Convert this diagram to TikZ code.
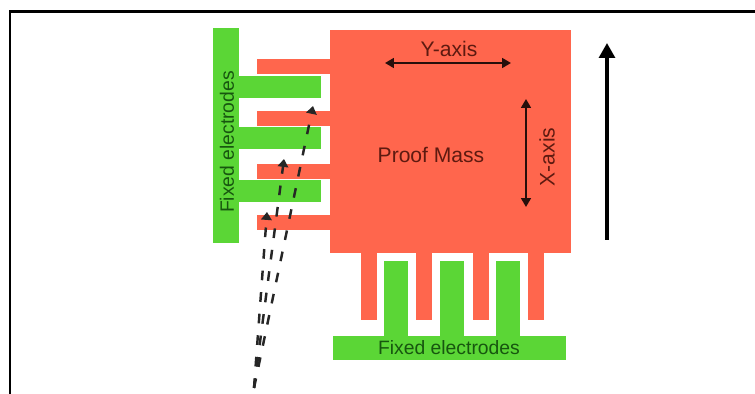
\documentclass[tikz,border=0pt]{standalone}
\usepackage{fontspec}
\setmainfont{Liberation Sans}
\usetikzlibrary{arrows.meta}
\definecolor{massred}{HTML}{FF664D}
\definecolor{fixedgreen}{HTML}{5BD636}
\definecolor{redtext}{HTML}{5E1A10}
\definecolor{greentext}{HTML}{17560F}
\tikzset{
    axisarrow/.style={line width=1.2pt, black!85!massred, {Triangle[width=5.5pt,length=5pt]}-{Triangle[width=5.5pt,length=5pt]}},
    dasharrow/.style={line width=1.4pt, black!85, dash pattern=on 5.5pt off 6.8pt, -{Triangle[width=6pt,length=4.5pt]}},
    masslabel/.style={text=redtext, inner sep=0pt},
    fixedlabel/.style={text=greentext, inner sep=0pt, font=\fontsize{11}{13}\selectfont},
}
\begin{document}
\begin{tikzpicture}[x=0.02cm,y=-0.02cm]
    \useasboundingbox (0,0) rectangle (755,394);

    % Frame, open at the right and at the bottom
    \draw[line width=1.5pt, black] (10,394) -- (10,11.5) -- (755,11.5);

    % Proof mass with its fingers
    \fill[massred] (330,30) rectangle (571,253);
    \foreach \y in {59,111,164,215} {
        \fill[massred] (257,\y) rectangle (331,\y+15);
    }
    \foreach \x in {361,416,473,528} {
        \fill[massred] (\x,252) rectangle (\x+16,320);
    }

    % Fixed electrodes on the left
    \fill[fixedgreen] (213,28) rectangle (239,243);
    \foreach \y in {76,127,180} {
        \fill[fixedgreen] (238,\y) rectangle (321,\y+22);
    }

    % Fixed electrodes at the bottom
    \fill[fixedgreen] (333,336) rectangle (566,360);
    \foreach \x in {384,440,496} {
        \fill[fixedgreen] (\x,261) rectangle (\x+24,337);
    }

    % Labels
    \node[masslabel, font=\fontsize{12}{14}\selectfont] (yaxislabel) at (449,49) {Y-axis};
    \node[masslabel, font=\fontsize{12}{14}\selectfont] (prooflabel) at (431,155) {Proof Mass};
    \node[masslabel, font=\fontsize{12}{14}\selectfont, rotate=90] (xaxislabel) at (547,157) {X-axis};
    \node[fixedlabel, rotate=90] (leftlabel) at (227,142) {Fixed electrodes};
    \node[fixedlabel] (bottomlabel) at (449,348) {Fixed electrodes};

    % Axis arrows
    \coordinate (yleft) at (385,63);
    \coordinate (yright) at (511,63);
    \coordinate (xtop) at (526,99);
    \coordinate (xbottom) at (526,207);
    \draw[axisarrow] (yleft) -- (yright);
    \draw[axisarrow] (xtop) -- (xbottom);

    % Long arrow on the right
    \coordinate (longfoot) at (607,240);
    \coordinate (longhead) at (607,43);
    \draw[line width=1.9pt, black, -{Triangle[width=9pt,length=8.5pt]}] (longfoot) -- (longhead);

    % Dashed arrows
    \coordinate (dashfoot) at (254,388);
    \foreach \name/\x/\y in {dasha/267/212, dashb/284/159, dashc/313/106} {
        \coordinate (\name) at (\x,\y);
        \draw[dasharrow] (dashfoot) -- (\name);
    }
\end{tikzpicture}
\end{document}
